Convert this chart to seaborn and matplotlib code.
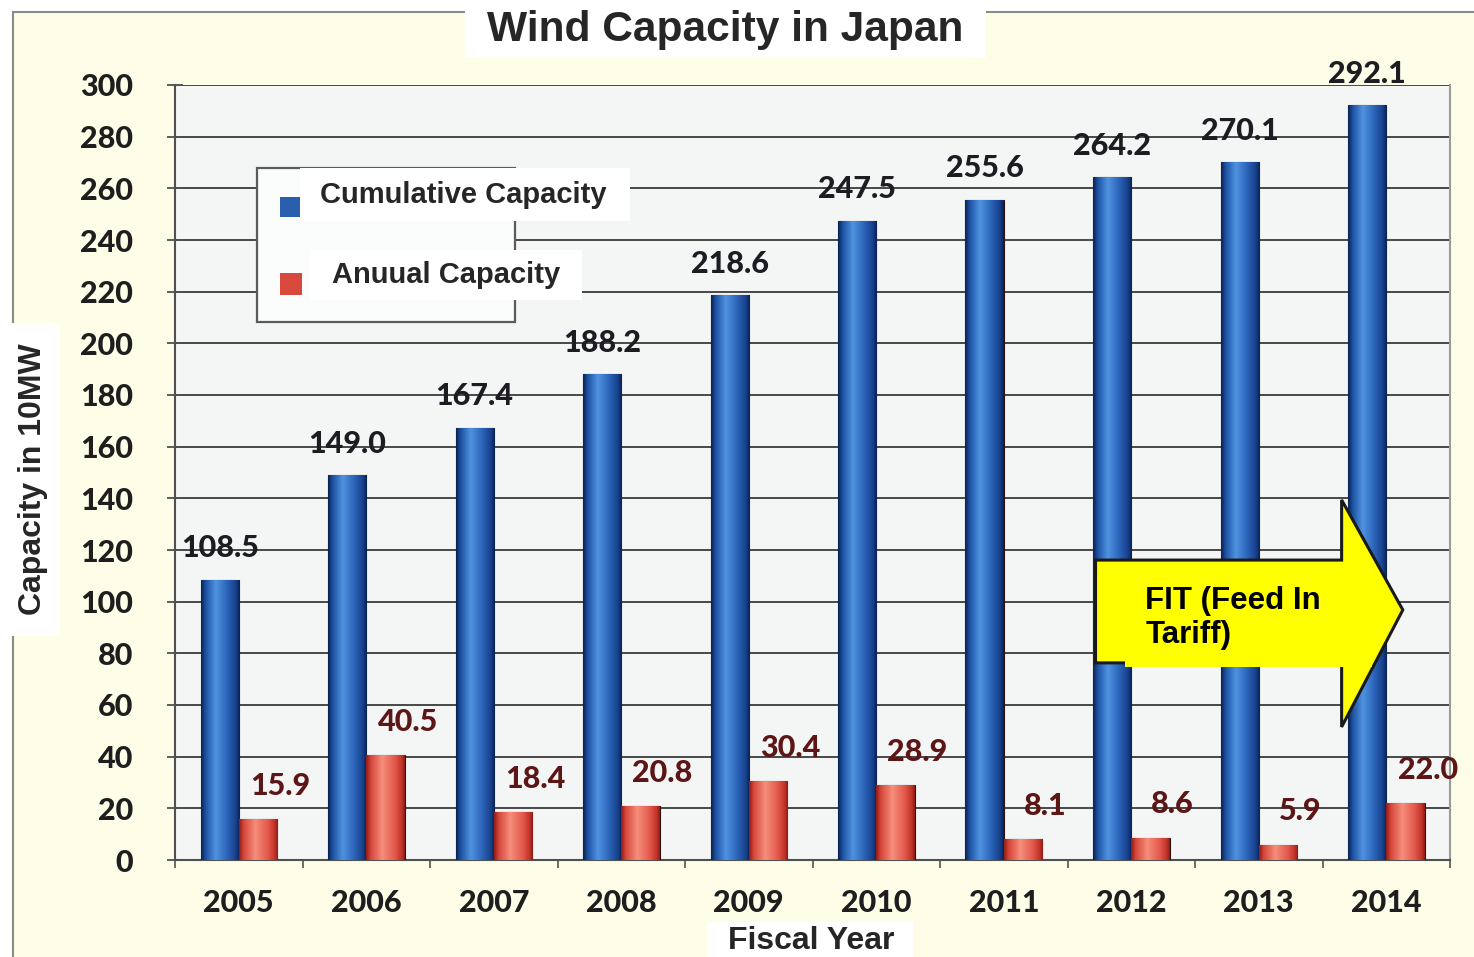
import numpy as np
import pandas as pd
import matplotlib
matplotlib.use("Agg")
import matplotlib.pyplot as plt
import seaborn as sns
from matplotlib.patches import Rectangle, Polygon
from matplotlib.colors import LinearSegmentedColormap

# ---- data -------------------------------------------------------------
years = ["2005", "2006", "2007", "2008", "2009", "2010", "2011", "2012", "2013", "2014"]
cumulative = [108.5, 149.0, 167.4, 188.2, 218.6, 247.5, 255.6, 264.2, 270.1, 292.1]
annual = [15.9, 40.5, 18.4, 20.8, 30.4, 28.9, 8.1, 8.6, 5.9, 22.0]
series_names = ["Cumulative Capacity", "Anuual Capacity"]
y_ticks = list(range(0, 301, 20))

df = pd.DataFrame({
    "year": years * 2,
    "value": cumulative + annual,
    "series": [series_names[0]] * len(years) + [series_names[1]] * len(years),
})

# ---- style ------------------------------------------------------------
sns.set_theme(style="white")
plt.rcParams["font.family"] = ["Liberation Sans", "DejaVu Sans"]

NUM_FONT = dict(family="Lato", fontweight="black")

W, H = 1474, 957
fig = plt.figure(figsize=(W / 100, H / 100), dpi=100, facecolor="white")


def fx(px):
    return px / W


def fy(py):
    return 1 - py / H


def fig_box(x0, y0, x1, y1, zorder=5, **kw):
    r = Rectangle((fx(x0), fy(y1)), fx(x1) - fx(x0), fy(y0) - fy(y1),
                  transform=fig.transFigure, zorder=zorder, **kw)
    fig.patches.append(r)
    return r


# pale page background with a thin frame on the top and left
fig_box(13, 12, W + 5, H + 5, zorder=-10, facecolor="#fdfde8",
        edgecolor="#8a8a86", linewidth=1.5)

ax = fig.add_axes([fx(175), fy(860), fx(1450) - fx(175), fy(85) - fy(860)])
ax.set_facecolor("#f4f6f6")

blue_base, red_base = "#2a5fae", "#d8483d"
sns.barplot(data=df, x="year", y="value", hue="series",
            palette=[blue_base, red_base], width=0.6, saturation=1,
            edgecolor="#2a1010", linewidth=0.8, legend=False, ax=ax, zorder=3)

# cylinder-like shading on every bar
blue_cmap = LinearSegmentedColormap.from_list("blue_cyl", [
    (0.0, "#08204f"), (0.12, "#1d52a3"), (0.38, "#4f93e0"),
    (0.68, "#2a63b8"), (0.9, "#17408a"), (1.0, "#08204f")])
red_cmap = LinearSegmentedColormap.from_list("red_cyl", [
    (0.0, "#8e1a16"), (0.12, "#d6463a"), (0.42, "#f68e7c"),
    (0.75, "#e2574a"), (0.92, "#c03328"), (1.0, "#8e1a16")])
grad = np.linspace(0, 1, 256).reshape(1, -1)
for container, cmap in zip(ax.containers, [blue_cmap, red_cmap]):
    for patch in container.patches:
        x0, w, h = patch.get_x(), patch.get_width(), patch.get_height()
        im = ax.imshow(grad, cmap=cmap, extent=[x0, x0 + w, 0, h],
                       aspect="auto", zorder=3.5, interpolation="bicubic")
        im.set_clip_path(patch)

# value labels
for container, vals, color, dx, dy in [
        (ax.containers[0], cumulative, "#1c1c22", 0, 22.5),
        (ax.containers[1], annual, "#5c1616", 16, 24)]:
    for patch, v in zip(container.patches, vals):
        cx = patch.get_x() + patch.get_width() / 2
        ax.annotate(f"{v:.1f}", (cx, v), xytext=(dx, dy),
                    textcoords="offset points", ha="center", va="center",
                    fontsize=22, color=color, zorder=6,
                    annotation_clip=False, **NUM_FONT)

# axes, ticks and grid
ax.set_xlim(-0.5, len(years) - 0.5)
ax.set_ylim(0, 300)
ax.set_yticks(y_ticks)
ax.set_yticklabels([str(t) for t in y_ticks], fontsize=22, color="#1e1e1e",
                   **NUM_FONT)
ax.set_xticks(range(len(years)))
ax.set_xticklabels(years, fontsize=22, color="#1e1e1e", **NUM_FONT)
ax.set_xticks(np.arange(-0.5, len(years), 1.0), minor=True)
ax.tick_params(axis="y", which="major", length=12, width=1.3, direction="inout",
               color="#505050", pad=24, left=True)
ax.tick_params(axis="x", which="major", length=0, pad=21)
ax.tick_params(axis="x", which="minor", length=6, width=1.3, direction="out",
               color="#606060", bottom=True)
ax.set_xlabel("")
ax.set_ylabel("")
ax.yaxis.grid(True, color="#484848", linewidth=1.4, zorder=1)
ax.set_axisbelow(True)
for side, sp in ax.spines.items():
    sp.set_visible(True)
    sp.set_color("#505050")
    sp.set_linewidth(1.5)
ax.spines["right"].set_color("#9a9a9a")
ax.spines["top"].set_visible(False)

# FIT arrow
arrow = Polygon([(6.72, 116.1), (8.65, 116.1), (8.65, 139.4), (9.13, 96.8),
                 (8.65, 51.5), (8.65, 76.3), (6.72, 76.3)], closed=True,
                facecolor="#ffff00", edgecolor="#1a1a1a", linewidth=2.2,
                zorder=7, joinstyle="miter")
ax.add_patch(arrow)
ax.add_patch(Rectangle((6.95, 74.6), 1.94, 35, facecolor="#ffff00",
                       edgecolor="none", zorder=7.5))
ax.text(7.11, 93.6, "FIT (Feed In\nTariff)", ha="left", va="center",
        fontsize=22.5, fontweight="bold", color="black", linespacing=1.2,
        zorder=8)

# legend
fig_box(257, 168, 515, 322, zorder=6, facecolor="#fbfcfc",
        edgecolor="#5a5a5a", linewidth=1.6)
fig_box(300, 168, 630, 221, zorder=7, facecolor="white", edgecolor="none")
fig_box(310, 250, 582, 300, zorder=7, facecolor="white", edgecolor="none")
fig_box(280, 197, 300, 217, zorder=8, facecolor=blue_base, edgecolor="none")
fig_box(280, 273, 302, 295, zorder=8, facecolor=red_base, edgecolor="none")
fig.text(fx(320), fy(195), series_names[0], ha="left", va="center",
         fontsize=21, fontweight="bold", zorder=9)
fig.text(fx(332), fy(275), series_names[1], ha="left", va="center",
         fontsize=21, fontweight="bold", zorder=9)

# title and axis titles on white boxes
fig_box(465, 0, 986, 58, zorder=7, facecolor="white", edgecolor="none")
fig.text(fx(725), fy(30), "Wind Capacity in Japan", ha="center", va="center",
         fontsize=30.6, fontweight="bold", zorder=9)

fig_box(10, 323, 60, 636, zorder=7, facecolor="white", edgecolor="none")
fig.text(fx(33), fy(479), "Capacity in 10MW", ha="center", va="center",
         rotation=90, fontsize=23, fontweight="bold", zorder=9)

fig_box(707, 922, 913, H + 2, zorder=7, facecolor="white", edgecolor="none")
fig.text(fx(811), fy(941), "Fiscal Year", ha="center", va="center",
         fontsize=23, fontweight="bold", zorder=9)

fig.savefig("out.png", dpi=100, facecolor=fig.get_facecolor())
